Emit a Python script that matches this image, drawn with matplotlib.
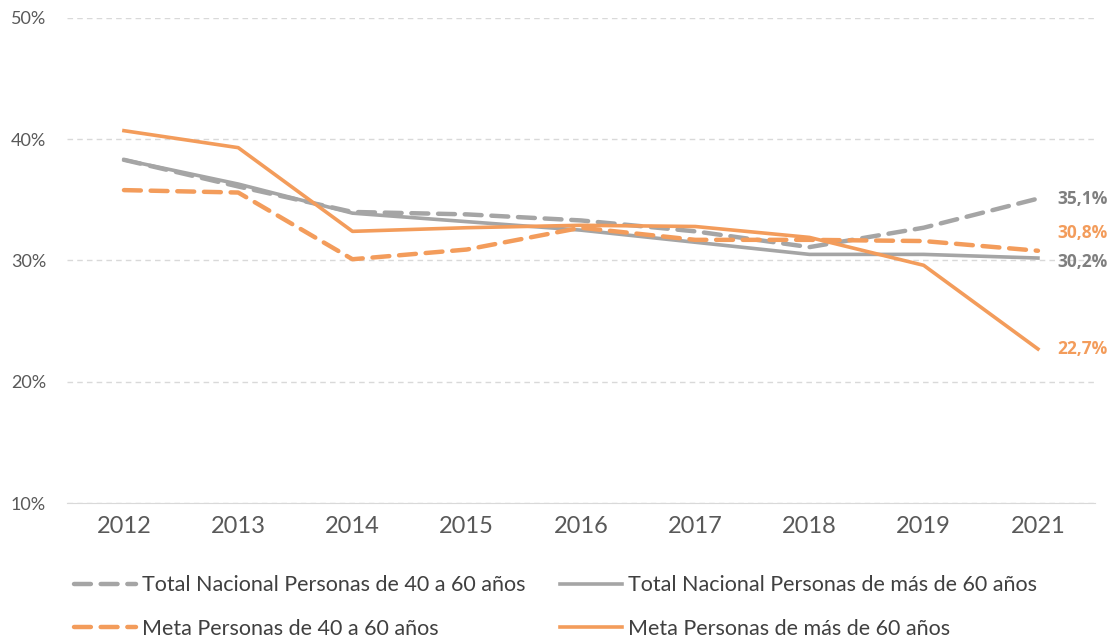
import matplotlib.pyplot as plt
from matplotlib.ticker import FuncFormatter

years = ["2012", "2013", "2014", "2015", "2016", "2017", "2018", "2019", "2021"]

total_40_60 = [38.3, 36.1, 34.0, 33.8, 33.3, 32.4, 31.1, 32.7, 35.1]
total_60_mas = [38.3, 36.3, 33.9, 33.2, 32.5, 31.5, 30.5, 30.5, 30.2]
meta_40_60 = [35.8, 35.6, 30.1, 30.9, 32.7, 31.7, 31.7, 31.6, 30.8]
meta_60_mas = [40.7, 39.3, 32.4, 32.7, 32.9, 32.8, 31.9, 29.6, 22.7]

labels = [
    "Total Nacional Personas de 40 a 60 años",
    "Total Nacional Personas de más de 60 años",
    "Meta Personas de 40 a 60 años",
    "Meta Personas de más de 60 años",
]

gray = "#A5A5A5"
orange = "#F39C5B"

plt.rcParams["font.family"] = ["Lato", "DejaVu Sans"]

fig = plt.figure(figsize=(11.14, 6.39), dpi=100)
ax = fig.add_axes([0.060, 0.2128, 0.923, 0.7592])

x = list(range(len(years)))
dash = (0, (3.8, 2.2))
l1, = ax.plot(x, total_40_60, color=gray, lw=3.2, ls=dash, dash_capstyle="round")
l2, = ax.plot(x, total_60_mas, color=gray, lw=2.6)
l3, = ax.plot(x, meta_40_60, color=orange, lw=3.2, ls=dash, dash_capstyle="round")
l4, = ax.plot(x, meta_60_mas, color=orange, lw=2.6)

# end labels
ends = [(total_40_60[-1], "#7F7F7F", 0),
        (meta_40_60[-1], orange, 1.5),
        (total_60_mas[-1], "#7F7F7F", -0.3),
        (meta_60_mas[-1], orange, 0)]
for v, tc, dy in ends:
    ax.text(x[-1] + 0.17, v + dy, f"{v:.1f}%".replace(".", ","), color=tc,
            fontsize=12.5, fontweight="bold", family=["Open Sans", "DejaVu Sans"],
            va="center", ha="left")

ax.set_xlim(-0.5, len(years) - 0.5)
ax.set_ylim(10, 50)
ax.set_yticks([10, 20, 30, 40, 50])
ax.yaxis.set_major_formatter(FuncFormatter(lambda v, p: f"{v:.0f}%"))
ax.set_xticks(x)
ax.set_xticklabels(years)
ax.tick_params(axis="x", length=0, labelsize=17, colors="#595959", pad=9)
ax.tick_params(axis="y", length=0, labelsize=13, colors="#595959", pad=15)

ax.grid(axis="y", color="#D9D9D9", ls=(0, (4, 3)), lw=1)
for s in ["top", "right", "left"]:
    ax.spines[s].set_visible(False)
ax.spines["bottom"].set_color("#D9D9D9")
ax.set_axisbelow(True)

# row-wise order: matplotlib fills legend columns first
fig.legend([l1, l3, l2, l4], [labels[0], labels[2], labels[1], labels[3]],
           ncol=2, loc="lower left",
           bbox_to_anchor=(0.049, -0.03), frameon=False, fontsize=15.5,
           labelcolor="#404040", handlelength=2.9, handletextpad=0.25,
           columnspacing=1.6, labelspacing=1.1)

fig.savefig("out.png", dpi=100)
